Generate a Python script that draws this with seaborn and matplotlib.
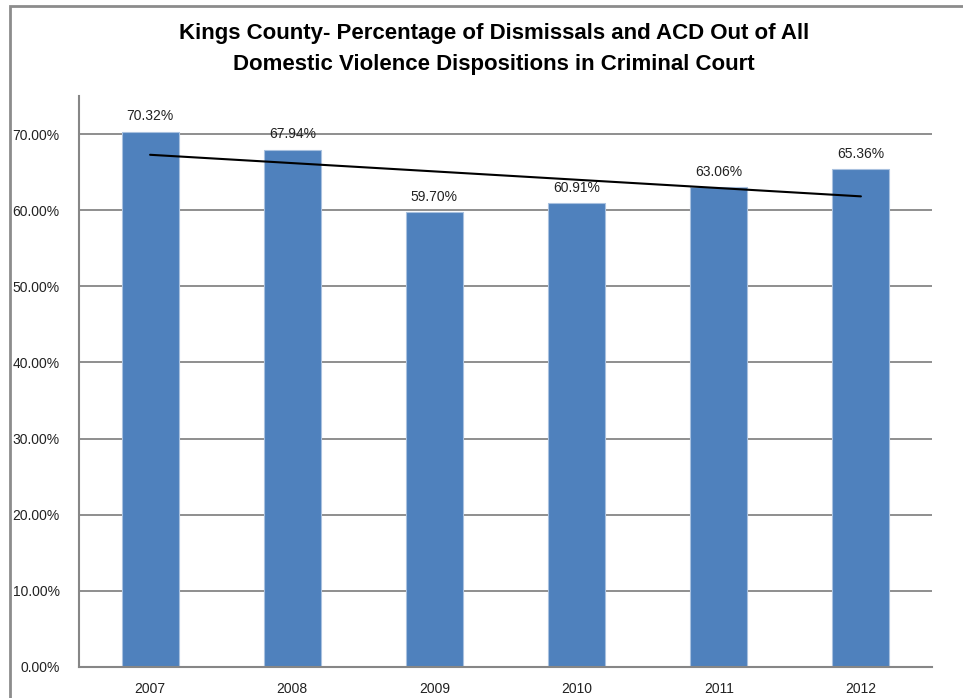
import numpy as np
import pandas as pd
import matplotlib
matplotlib.use("Agg")
import matplotlib.pyplot as plt
import seaborn as sns
from matplotlib.patches import Rectangle

years = ["2007", "2008", "2009", "2010", "2011", "2012"]
values = [0.7032, 0.6794, 0.5970, 0.6091, 0.6306, 0.6536]
value_labels = ["70.32%", "67.94%", "59.70%", "60.91%", "63.06%", "65.36%"]
y_ticks = [0.0, 0.1, 0.2, 0.3, 0.4, 0.5, 0.6, 0.7]
y_tick_labels = ["0.00%", "10.00%", "20.00%", "30.00%", "40.00%", "50.00%", "60.00%", "70.00%"]
title = "Kings County- Percentage of Dismissals and ACD Out of All\nDomestic Violence Dispositions in Criminal Court"

sns.set_theme(style="white")
plt.rcParams["font.family"] = ["Liberation Sans", "DejaVu Sans"]

df = pd.DataFrame({"year": years, "value": values})

fig = plt.figure(figsize=(9.63, 6.98), dpi=100)
ax = fig.add_axes([79 / 963, 1 - 667 / 698, (932 - 79) / 963, (667 - 96) / 698])

grid_c = "#868686"
ax.set_axisbelow(True)
for t in y_ticks:
    ax.axhline(t, color=grid_c, lw=1.3, zorder=0)

sns.barplot(data=df, x="year", y="value", color="#4F81BD", width=0.4,
            edgecolor="#A9C1DF", linewidth=0.8, saturation=1, ax=ax, zorder=2)

ax.bar_label(ax.containers[0], labels=value_labels, padding=6, fontsize=10, color="#222222")

# linear trend line
xi = np.arange(len(values))
m, b = np.polyfit(xi, values, 1)
ax.plot(xi, m * xi + b, color="black", lw=1.5, zorder=3)

ax.set_xlim(-0.5, len(years) - 0.5)
ax.set_ylim(0, 0.75)
ax.set_yticks(y_ticks)
ax.set_yticklabels(y_tick_labels, fontsize=10, color="#222222")
ax.tick_params(axis="y", length=0, pad=14)
ax.tick_params(axis="x", length=0, pad=11, labelsize=10, labelcolor="#222222")
ax.set_xlabel("")
ax.set_ylabel("")

for s in ["top", "right"]:
    ax.spines[s].set_visible(False)
for s in ["left", "bottom"]:
    ax.spines[s].set_color(grid_c)
    ax.spines[s].set_linewidth(1.5)

fig.text(494 / 963, 1 - 49 / 698, title, ha="center", va="center",
         fontsize=16, fontweight="bold", linespacing=1.65,
         family=["Liberation Sans Narrow", "Liberation Sans", "DejaVu Sans"], color="black")

# chart area border (cropped at right/bottom)
fig.patches.append(Rectangle((10 / 963, -0.1), 1.2, (698 - 6) / 698 + 0.1,
                             transform=fig.transFigure, fill=False,
                             edgecolor="#8C8C8C", lw=2, clip_on=False))

fig.savefig("out.png", dpi=100)
